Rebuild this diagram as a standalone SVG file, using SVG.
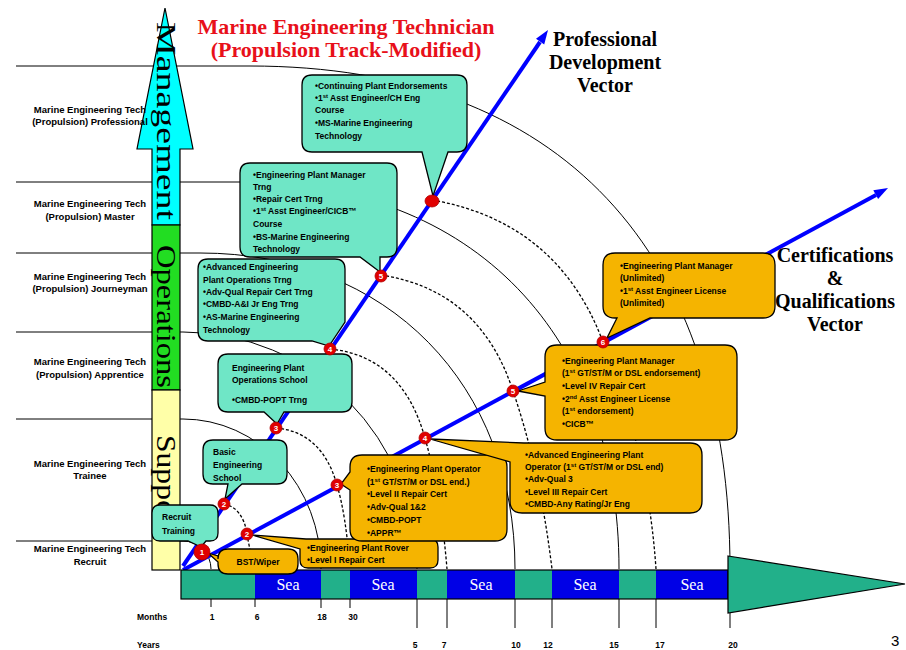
<svg xmlns="http://www.w3.org/2000/svg" width="906" height="650" viewBox="0 0 906 650">
<defs>
<style>
.t{font-family:"Liberation Sans",Arial,sans-serif;font-weight:bold;font-size:8.5px;fill:#000}
.lb{font-family:"Liberation Sans",Arial,sans-serif;font-weight:bold;font-size:9.5px;fill:#000;text-anchor:middle}
.ax{font-family:"Liberation Sans",Arial,sans-serif;font-weight:bold;font-size:8.5px;fill:#000}
.axm{font-family:"Liberation Sans",Arial,sans-serif;font-weight:bold;font-size:8.5px;fill:#000;text-anchor:middle}
.sup{font-size:6px;baseline-shift:super}
.ct{fill:#6FE6C6;stroke:#000;stroke-width:1.3}
.co{fill:#F5B400;stroke:#000;stroke-width:1.3}
.arc{fill:none;stroke:#000;stroke-width:1}
.dsh{fill:none;stroke:#000;stroke-width:1.3;stroke-dasharray:3 2}
.tick{stroke:#000;stroke-width:1}
.vec{stroke:#0000FF;stroke-width:4;fill:none}
.ah{fill:#0000FF}
.nd{fill:#E00000;stroke:#B00000;stroke-width:0.8}
.nn{font-family:"Liberation Sans",Arial,sans-serif;font-weight:bold;font-size:8px;fill:#fff;text-anchor:middle}
.ser{font-family:"Liberation Serif","Times New Roman",serif}
.vt{font-family:"Liberation Serif","Times New Roman",serif;font-weight:bold;font-size:20px;fill:#000;text-anchor:middle}
.sea{font-family:"Liberation Serif","Times New Roman",serif;font-size:16px;fill:#fff;text-anchor:middle}
.bar{font-family:"Liberation Serif","Times New Roman",serif;font-size:28px;fill:#000}
</style>
</defs>
<rect width="906" height="650" fill="#fff"/>

<g id="connectors">
<path class="arc" d="M16,66 H250 C562,66 730,252 730,569"/>
<path class="arc" d="M16,182 H240 C475,182 619,337 619,569"/>
<path class="arc" d="M16,253 H200 C389,253 515,386 515,569"/>
<path class="arc" d="M16,332 H183 A234,237 0 0 1 417,569"/>
<path class="arc" d="M16,419 H183 A138,150 0 0 1 321,569"/>
<path class="arc" d="M16,541 H183 A28,28 0 0 1 211,569"/>
<path class="dsh" d="M224,504 Q243,508 247,534 Q250,552 255,569"/>
<path class="dsh" d="M276,428 Q322,432 337,485 Q346,515 350,569"/>
<path class="dsh" d="M330,349 Q402,356 425,438 Q441,495 447,569"/>
<path class="dsh" d="M381,275 Q480,290 513,391 Q540,470 552,569"/>
<path class="dsh" d="M432,200 Q558,222 603,342 Q648,450 656,569"/>
<g class="tick">
<line x1="211" y1="598" x2="211" y2="607"/>
<line x1="255" y1="598" x2="255" y2="607"/>
<line x1="321" y1="598" x2="321" y2="608"/>
<line x1="350" y1="598" x2="350" y2="608"/>
<line x1="417" y1="598" x2="417" y2="628"/>
<line x1="447" y1="598" x2="447" y2="628"/>
<line x1="515" y1="598" x2="515" y2="628"/>
<line x1="552" y1="598" x2="552" y2="628"/>
<line x1="619" y1="598" x2="619" y2="628"/>
<line x1="656" y1="598" x2="656" y2="628"/>
<line x1="730" y1="613" x2="730" y2="628"/>
</g>
<line class="vec" x1="183" y1="566" x2="540" y2="42"/>
<polygon class="ah" points="548,30 544.2,44.4 536,38.8"/>
<line class="vec" x1="183" y1="570" x2="876" y2="195"/>
<polygon class="ah" points="888,188 878.1,199.1 873.3,190.3"/>
</g>

<g id="level-bar">
<polygon points="165,8 193,149 180,149 180,225 152,225 152,149 137,149" fill="#00FFFF" stroke="#000" stroke-width="1.2"/>
<rect x="152" y="225" width="28" height="165" fill="#22DD22" stroke="#000" stroke-width="1.2"/>
<rect x="152" y="390" width="28" height="180" fill="#FFFFA8" stroke="#000" stroke-width="1.2"/>
<text class="bar" transform="translate(157,22) rotate(90)" textLength="198" lengthAdjust="spacingAndGlyphs">Management</text>
<text class="bar" transform="translate(157,245) rotate(90)" textLength="143" lengthAdjust="spacingAndGlyphs">Operations</text>
<text class="bar" transform="translate(157,435) rotate(90)" textLength="100" lengthAdjust="spacingAndGlyphs">Support</text>
</g>

<g id="timeline">
<rect x="181" y="570" width="74" height="29" fill="#22B08A"/>
<rect x="255" y="570" width="66" height="29" fill="#0000E6"/>
<rect x="321" y="570" width="29" height="29" fill="#22B08A"/>
<rect x="350" y="570" width="67" height="29" fill="#0000E6"/>
<rect x="417" y="570" width="30" height="29" fill="#22B08A"/>
<rect x="447" y="570" width="68" height="29" fill="#0000E6"/>
<rect x="515" y="570" width="37" height="29" fill="#22B08A"/>
<rect x="552" y="570" width="67" height="29" fill="#0000E6"/>
<rect x="619" y="570" width="37" height="29" fill="#22B08A"/>
<rect x="656" y="570" width="72" height="29" fill="#0000E6"/>
<rect x="181" y="570" width="547" height="29" fill="none" stroke="#000" stroke-width="1.2"/>
<polygon points="728,556 905,584 728,613" fill="#22B08A" stroke="#000" stroke-width="1.2"/>
<text class="sea" x="288" y="590">Sea</text>
<text class="sea" x="383" y="590">Sea</text>
<text class="sea" x="481" y="590">Sea</text>
<text class="sea" x="585" y="590">Sea</text>
<text class="sea" x="692" y="590">Sea</text>
</g>

<g id="c1"><path class="ct" d="M312,75 H457 Q467,75 467,85 V142 Q467,152 457,152 H448 L433,196 L422,152 H312 Q302,152 302,142 V85 Q302,75 312,75 Z"/>
<text class="t" x="315" y="89">•Continuing Plant Endorsements</text>
<text class="t" x="315" y="101">•1<tspan class="sup">st</tspan> Asst Engineer/CH Eng</text>
<text class="t" x="315" y="113">Course</text>
<text class="t" x="315" y="126">•MS-Marine Engineering</text>
<text class="t" x="315" y="139">Technology</text></g>

<g id="c2"><path class="ct" d="M250,163 H387 Q397,163 397,173 V247 Q397,257 387,257 H380 L380,272 L360,257 H250 Q240,257 240,247 V173 Q240,163 250,163 Z"/>
<text class="t" x="253" y="178">•Engineering Plant Manager</text>
<text class="t" x="253" y="190">Trng</text>
<text class="t" x="253" y="202">•Repair Cert Trng</text>
<text class="t" x="253" y="214">•1<tspan class="sup">st</tspan> Asst Engineer/CICB™</text>
<text class="t" x="253" y="227">Course</text>
<text class="t" x="253" y="240">•BS-Marine Engineering</text>
<text class="t" x="253" y="252">Technology</text></g>

<g id="c3"><path class="ct" d="M208,259 H335 Q345,259 345,269 V322 L329,346 L312,341 H208 Q198,341 198,331 V269 Q198,259 208,259 Z"/>
<text class="t" x="203" y="270">•Advanced Engineering</text>
<text class="t" x="203" y="283">Plant Operations Trng</text>
<text class="t" x="203" y="295">•Adv-Qual Repair Cert Trng</text>
<text class="t" x="203" y="307">•CMBD-A&amp;I Jr Eng Trng</text>
<text class="t" x="203" y="320">•AS-Marine Engineering</text>
<text class="t" x="203" y="333">Technology</text></g>

<g id="c4"><path class="ct" d="M228,354 H342 Q352,354 352,364 V402 Q352,412 342,412 H284 L277,424 L264,412 H228 Q218,412 218,402 V364 Q218,354 228,354 Z"/>
<text class="t" x="232" y="371">Engineering Plant</text>
<text class="t" x="232" y="383">Operations School</text>
<text class="t" x="232" y="403">•CMBD-POPT Trng</text></g>

<g id="c5"><path class="ct" d="M213,440 H277 Q287,440 287,450 V474 Q287,484 277,484 H242 L225,499 L228,484 H213 Q203,484 203,474 V450 Q203,440 213,440 Z"/>
<text class="t" x="213" y="455">Basic</text>
<text class="t" x="213" y="468">Engineering</text>
<text class="t" x="213" y="481">School</text></g>

<g id="c6"><path class="ct" d="M160,505 H210 Q218,505 218,513 V533 Q218,541 210,541 H206 L201,547 L188,541 H160 Q152,541 152,533 V513 Q152,505 160,505 Z"/>
<text class="t" x="162" y="520">Recruit</text>
<text class="t" x="162" y="534">Training</text></g>

<g id="c7"><path class="co" d="M228,549 H288 Q298,549 298,559 V564 Q298,574 288,574 H228 Q218,574 218,564 V562 L208,553 L218,556 V559 Q218,549 228,549 Z"/>
<text class="t" x="258" y="565" text-anchor="middle">BST/Wiper</text></g>

<g id="c8"><path class="co" d="M306,539 H430 Q438,539 438,547 V560 Q438,568 430,568 H308 Q300,568 300,560 V549 L252,535 Z"/>
<text class="t" x="307" y="551">•Engineering Plant Rover</text>
<text class="t" x="307" y="563">•Level I Repair Cert</text></g>

<g id="c9"><path class="co" d="M362,455 H495 Q507,455 507,467 V529 Q507,541 495,541 H362 Q350,541 350,529 V490 L341,484 L350,472 V467 Q350,455 362,455 Z"/>
<text class="t" x="367" y="472">•Engineering Plant Operator</text>
<text class="t" x="367" y="485">(1<tspan class="sup">st</tspan> GT/ST/M or DSL end.)</text>
<text class="t" x="367" y="497">•Level II Repair Cert</text>
<text class="t" x="367" y="510">•Adv-Qual 1&amp;2</text>
<text class="t" x="367" y="523">•CMBD-POPT</text>
<text class="t" x="367" y="536">•APPR™</text></g>

<g id="c10"><path class="co" d="M522,443 H690 Q702,443 702,455 V501 Q702,513 690,513 H522 Q510,513 510,501 V462 L430,439 L524,443 Z"/>
<text class="t" x="525" y="458">•Advanced Engineering Plant</text>
<text class="t" x="525" y="470">Operator (1<tspan class="sup">st</tspan> GT/ST/M or DSL end)</text>
<text class="t" x="525" y="482">•Adv-Qual 3</text>
<text class="t" x="525" y="495">•Level III Repair Cert</text>
<text class="t" x="525" y="507">•CMBD-Any Rating/Jr Eng</text></g>

<g id="c11"><path class="co" d="M557,345 H725 Q737,345 737,357 V428 Q737,440 725,440 H557 Q545,440 545,428 V396 L518,391 L545,382 V357 Q545,345 557,345 Z"/>
<text class="t" x="562" y="364">•Engineering Plant Manager</text>
<text class="t" x="562" y="376">(1<tspan class="sup">st</tspan> GT/ST/M or DSL endorsement)</text>
<text class="t" x="562" y="389">•Level IV Repair Cert</text>
<text class="t" x="562" y="402">•2<tspan class="sup">nd</tspan> Asst Engineer License</text>
<text class="t" x="562" y="414">(1<tspan class="sup">st</tspan> endorsement)</text>
<text class="t" x="562" y="427">•CICB™</text></g>

<g id="c12"><path class="co" d="M615,253 H763 Q775,253 775,265 V306 Q775,318 763,318 H650 L607,338 L617,318 H615 Q603,318 603,306 V265 Q603,253 615,253 Z"/>
<text class="t" x="620" y="269">•Engineering Plant Manager</text>
<text class="t" x="620" y="281">(Unlimited)</text>
<text class="t" x="620" y="294">•1<tspan class="sup">st</tspan> Asst Engineer License</text>
<text class="t" x="620" y="306">(Unlimited)</text></g>

<g id="nodes">
<circle class="nd" cx="202" cy="552" r="8"/><text class="nn" x="202" y="555">1</text>
<circle class="nd" cx="224" cy="504" r="6"/><text class="nn" x="224" y="507">2</text>
<circle class="nd" cx="276" cy="428" r="6"/><text class="nn" x="276" y="431">3</text>
<circle class="nd" cx="330" cy="349" r="6"/><text class="nn" x="330" y="352">4</text>
<circle class="nd" cx="381" cy="276" r="6"/><text class="nn" x="381" y="279">5</text>
<ellipse class="nd" cx="432" cy="201" rx="7" ry="6"/>
<circle class="nd" cx="247" cy="534" r="6"/><text class="nn" x="247" y="537">2</text>
<circle class="nd" cx="337" cy="485" r="6"/><text class="nn" x="337" y="488">3</text>
<circle class="nd" cx="425" cy="438" r="6"/><text class="nn" x="425" y="441">4</text>
<circle class="nd" cx="513" cy="391" r="6"/><text class="nn" x="513" y="394">5</text>
<circle class="nd" cx="603" cy="342" r="6"/><text class="nn" x="603" y="345">6</text>
</g>

<g id="levels">
<text class="lb" x="90" y="113">Marine Engineering Tech</text>
<text class="lb" x="90" y="125">(Propulsion) Professional</text>
<text class="lb" x="90" y="207">Marine Engineering Tech</text>
<text class="lb" x="90" y="220">(Propulsion) Master</text>
<text class="lb" x="90" y="280">Marine Engineering Tech</text>
<text class="lb" x="90" y="292">(Propulsion) Journeyman</text>
<text class="lb" x="90" y="365">Marine Engineering Tech</text>
<text class="lb" x="90" y="378">(Propulsion) Apprentice</text>
<text class="lb" x="90" y="467">Marine Engineering Tech</text>
<text class="lb" x="90" y="479">Trainee</text>
<text class="lb" x="90" y="552">Marine Engineering Tech</text>
<text class="lb" x="90" y="565">Recruit</text>
</g>

<g id="titles">
<text class="ser" x="346" y="34" font-size="22" font-weight="bold" fill="#E8101A" text-anchor="middle">Marine Engineering Technician</text>
<text class="ser" x="346" y="57" font-size="22" font-weight="bold" fill="#E8101A" text-anchor="middle">(Propulsion Track-Modified)</text>
<text class="vt" x="605" y="46">Professional</text>
<text class="vt" x="605" y="69">Development</text>
<text class="vt" x="605" y="92">Vector</text>
<text class="vt" x="835" y="262">Certifications</text>
<text class="vt" x="835" y="285">&amp;</text>
<text class="vt" x="835" y="308">Qualifications</text>
<text class="vt" x="835" y="331">Vector</text>
</g>

<g id="axis-labels">
<text class="ax" x="137" y="620">Months</text>
<text class="axm" x="212" y="620">1</text>
<text class="axm" x="257" y="620">6</text>
<text class="axm" x="322" y="620">18</text>
<text class="axm" x="353" y="620">30</text>
<text class="ax" x="137" y="648">Years</text>
<text class="axm" x="415" y="648">5</text>
<text class="axm" x="444" y="648">7</text>
<text class="axm" x="516" y="648">10</text>
<text class="axm" x="548" y="648">12</text>
<text class="axm" x="614" y="648">15</text>
<text class="axm" x="660" y="648">17</text>
<text class="axm" x="733" y="648">20</text>
<text x="891" y="646" font-family="Liberation Sans, Arial, sans-serif" font-size="15">3</text>
</g>
</svg>
